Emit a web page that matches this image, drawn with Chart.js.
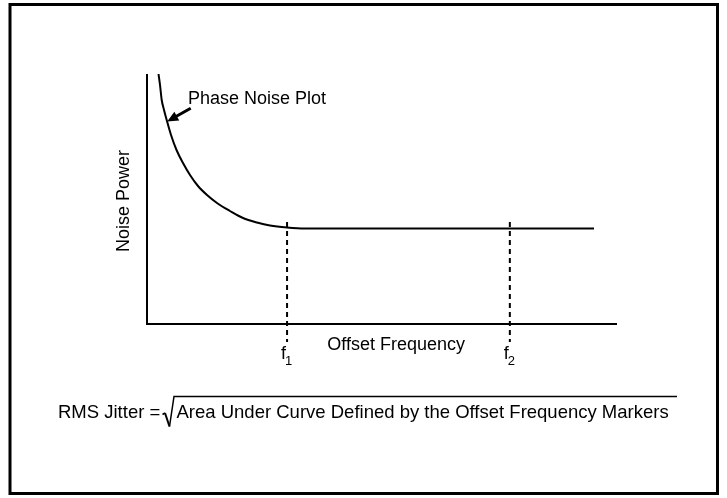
<!DOCTYPE html>
<html>
<head>
<meta charset="utf-8">
<script src="https://cdn.jsdelivr.net/npm/chart.js@4/dist/chart.umd.min.js"></script>
<style>
  html, body { margin: 0; padding: 0; background: #fff; }
  canvas { display: block; }
</style>
</head>
<body>
<canvas id="c" width="727" height="498"></canvas>
<script>
// Phase noise curve (arbitrary units: offset frequency 0..100, noise power 0..100)
const curveX = [2.45, 2.77, 3.13, 3.62, 4.19, 5.11, 6.28, 7.66, 9.15, 10.85, 12.77, 14.89, 17.66, 20.43, 23.4, 26.17, 29.79, 33.6, 95.1];
const curveY = [100, 95.6, 89.6, 85.6, 81.6, 75.6, 69.6, 64.4, 59.6, 55.2, 51.6, 48.4, 45.2, 42.4, 40.6, 39.4, 38.6, 38.2, 38.2];
// Offset frequency markers
const markerNames = ["1", "2"];
const markerX = [29.8, 77.2];
const markerTop = 40.8;
const markerBottom = -7.2;
// Axis ranges
const xRange = [0, 100];
const yRange = [0, 100];
// Labels
const xTitle = "Offset Frequency";
const yTitle = "Noise Power";
const curveLabel = "Phase Noise Plot";
const formulaLeft = "RMS Jitter =";
const formulaRight = "Area Under Curve Defined by the Offset Frequency Markers";

const FONT = "Liberation Sans, Arial, Helvetica, sans-serif";

const datasets = [{
  data: curveX.map((x, i) => ({ x, y: curveY[i] })),
  showLine: true, borderColor: "#000", borderWidth: 2, pointRadius: 0,
  cubicInterpolationMode: "monotone", fill: false
}];
markerX.forEach(mx => {
  datasets.push({
    data: [{ x: mx, y: markerTop }, { x: mx, y: markerBottom }],
    showLine: true, borderColor: "#000", borderWidth: 2, pointRadius: 0,
    borderDash: [5, 4], clip: false
  });
});

const decor = {
  id: "decor",
  beforeDatasetsDraw(chart) {
    const ctx = chart.ctx, xs = chart.scales.x, ys = chart.scales.y;
    ctx.save();
    ctx.strokeStyle = "#000";
    ctx.lineWidth = 2;
    const x0 = xs.getPixelForValue(xRange[0]), x1 = xs.getPixelForValue(xRange[1]);
    const y0 = ys.getPixelForValue(yRange[0]), y1 = ys.getPixelForValue(yRange[1]);
    ctx.beginPath();
    ctx.moveTo(x0, y1);
    ctx.lineTo(x0, y0);
    ctx.lineTo(x1, y0);
    ctx.stroke();
    ctx.restore();
  },
  afterDraw(chart) {
    const ctx = chart.ctx, xs = chart.scales.x, ys = chart.scales.y;
    const px = v => xs.getPixelForValue(v), py = v => ys.getPixelForValue(v);
    ctx.save();
    // frame
    ctx.strokeStyle = "#000";
    ctx.lineWidth = 3;
    ctx.strokeRect(10, 4.5, 707.5, 489);

    ctx.fillStyle = "#000";
    ctx.font = "18px " + FONT;
    ctx.textBaseline = "alphabetic";
    // curve label
    ctx.textAlign = "left";
    ctx.fillText(curveLabel, px(8.7), py(88.2));
    // arrow
    const ax0 = px(9.3), ay0 = py(86.3), ax1 = px(4.3), ay1 = py(81.0);
    const ang = Math.atan2(ay1 - ay0, ax1 - ax0);
    ctx.lineWidth = 3;
    ctx.beginPath();
    ctx.moveTo(ax0, ay0);
    ctx.lineTo(ax1 - 6 * Math.cos(ang), ay1 - 6 * Math.sin(ang));
    ctx.stroke();
    ctx.beginPath();
    ctx.moveTo(ax1, ay1);
    ctx.lineTo(ax1 - 11 * Math.cos(ang) + 5 * Math.sin(ang), ay1 - 11 * Math.sin(ang) - 5 * Math.cos(ang));
    ctx.lineTo(ax1 - 11 * Math.cos(ang) - 5 * Math.sin(ang), ay1 - 11 * Math.sin(ang) + 5 * Math.cos(ang));
    ctx.closePath();
    ctx.fill();

    // x title
    ctx.textAlign = "center";
    ctx.fillText(xTitle, px(53), py(-10.4));
    // marker labels f1, f2
    markerX.forEach((mx, i) => {
      const cx = px(mx);
      ctx.font = "18px " + FONT;
      ctx.textAlign = "right";
      ctx.fillText("f", cx - 1, py(-14));
      ctx.font = "13px " + FONT;
      ctx.textAlign = "left";
      ctx.fillText(markerNames[i], cx - 2, py(-16.4));
    });
    // y title
    ctx.font = "18px " + FONT;
    ctx.save();
    ctx.translate(px(-4.9), py(49.2));
    ctx.rotate(-Math.PI / 2);
    ctx.textAlign = "center";
    ctx.textBaseline = "middle";
    ctx.fillText(yTitle, 0, 0);
    ctx.restore();

    // formula
    ctx.font = "18.5px " + FONT;
    ctx.textAlign = "left";
    ctx.textBaseline = "alphabetic";
    ctx.fillText(formulaLeft, 58, 417.5);
    const rx = 176.5;
    ctx.fillText(formulaRight, rx, 417.5);
    const rw = ctx.measureText(formulaRight).width;
    // radical sign
    ctx.lineWidth = 1.5;
    ctx.beginPath();
    ctx.moveTo(162.5, 414.5);
    ctx.lineTo(165, 413);
    ctx.stroke();
    ctx.lineWidth = 2;
    ctx.beginPath();
    ctx.moveTo(165, 413);
    ctx.lineTo(169.5, 426.5);
    ctx.stroke();
    ctx.lineWidth = 1.5;
    ctx.beginPath();
    ctx.moveTo(169.5, 426.5);
    ctx.lineTo(174, 396.5);
    ctx.lineTo(Math.max(677, rx + rw + 4), 396.5);
    ctx.stroke();
    ctx.restore();
  }
};

new Chart(document.getElementById("c"), {
  type: "scatter",
  data: { datasets },
  options: {
    responsive: false,
    animation: false,
    events: [],
    layout: { padding: { left: 147, top: 74, right: 110, bottom: 174 } },
    plugins: { legend: { display: false }, tooltip: { enabled: false }, title: { display: false } },
    scales: {
      x: { type: "linear", min: xRange[0], max: xRange[1], display: false },
      y: { type: "linear", min: yRange[0], max: yRange[1], display: false }
    }
  },
  plugins: [decor]
});
</script>
</body>
</html>
